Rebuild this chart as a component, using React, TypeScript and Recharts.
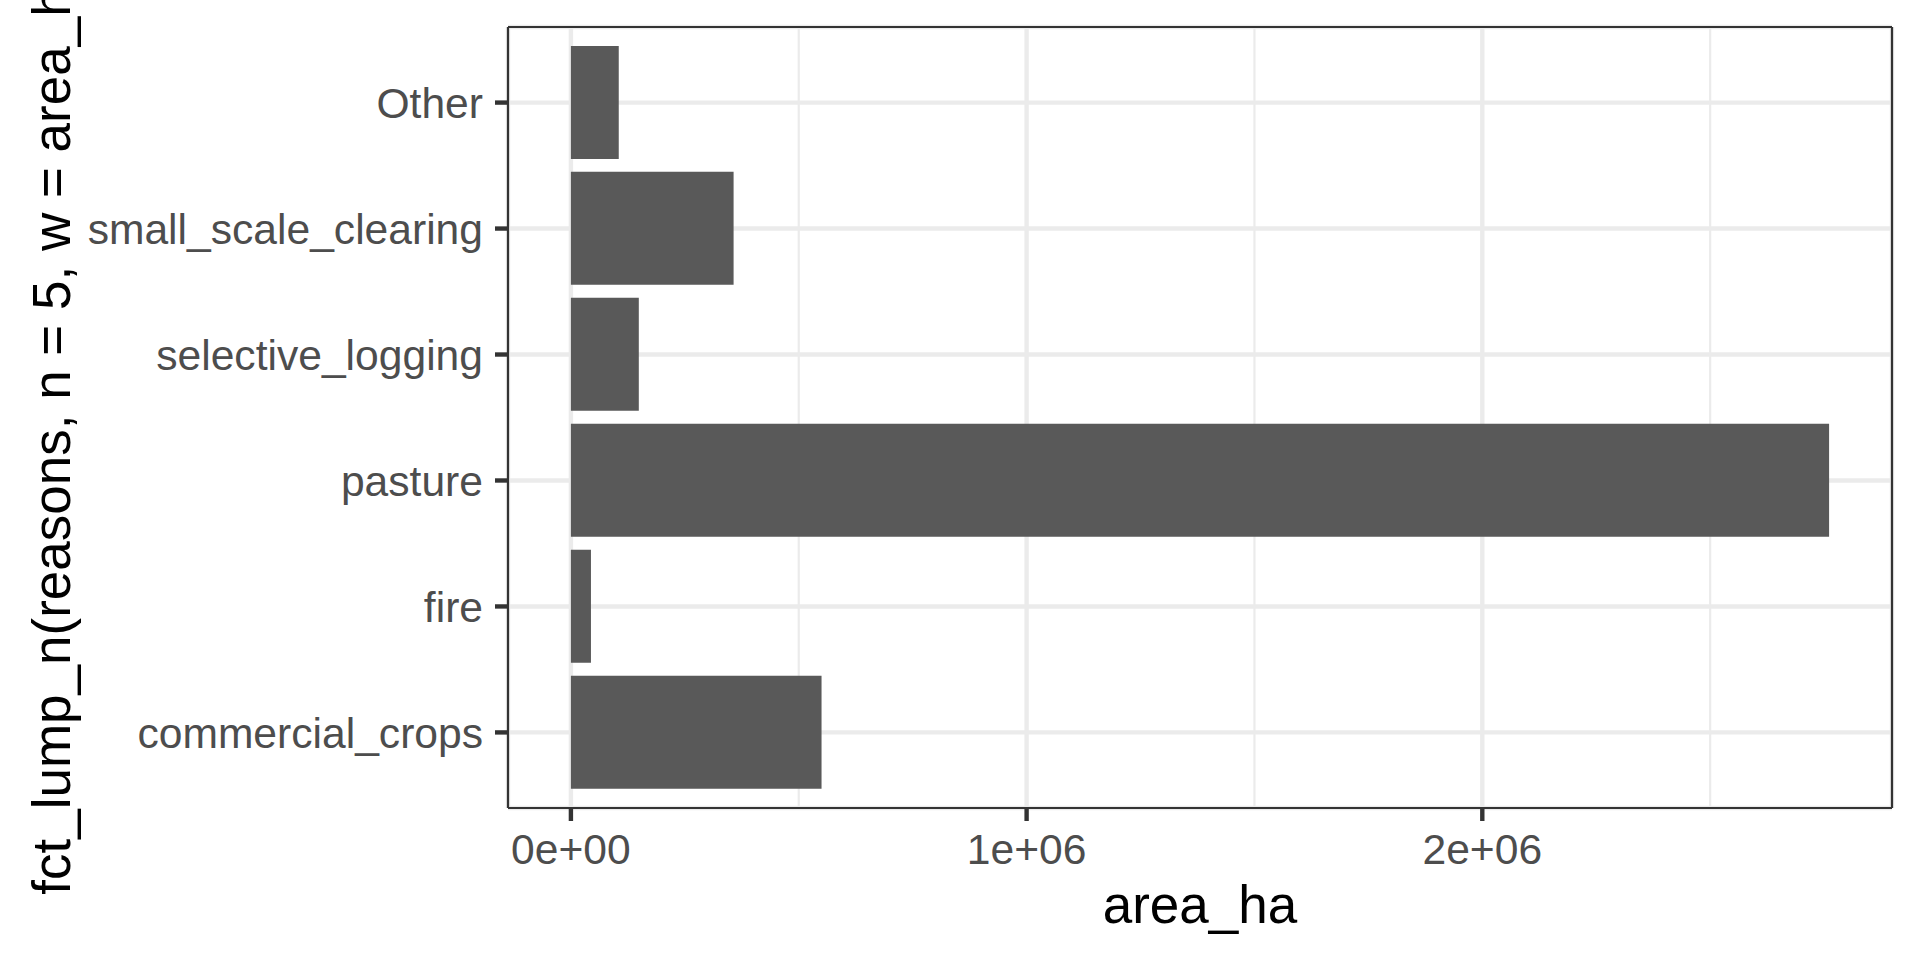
import React from "react";
import { BarChart, Bar, XAxis, YAxis, CartesianGrid, Label } from "recharts";

const categories = ["commercial_crops", "fire", "pasture", "selective_logging", "small_scale_clearing", "Other"];
const areaHa = [550000, 44000, 2761000, 149000, 357000, 105000];
const majorTicks = [0, 1000000, 2000000];
const minorTicks = [500000, 1500000, 2500000];
const xTitle = "area_ha";
const yTitle = "fct_lump_n(reasons, n = 5, w = area_ha)";

const data = categories.map((c, i) => ({ reason: c, area_ha: areaHa[i] }));
const maxVal = Math.max(...areaHa);
const domain: [number, number] = [-0.05 * maxVal, 1.05 * maxVal];

const FONT = "'Liberation Sans', Arial, Helvetica, sans-serif";

function sci(v: number): string {
  if (v === 0) return "0e+00";
  const exp = Math.floor(Math.log10(Math.abs(v)));
  const mant = Math.round(v / Math.pow(10, exp));
  const sign = exp < 0 ? "-" : "+";
  const e = String(Math.abs(exp)).padStart(2, "0");
  return `${mant}e${sign}${e}`;
}

const XTitle = (props: any) => {
  const vb = props.viewBox || { x: 508, width: 1384 };
  return (
    <text x={vb.x + vb.width / 2} y={923} textAnchor="middle" fill="#000000" fontSize={53} fontFamily={FONT}>
      {xTitle}
    </text>
  );
};

const YTitle = (props: any) => {
  const vb = props.viewBox || { y: 27, height: 781 };
  const cy = vb.y + vb.height / 2;
  const x = 70;
  return (
    <text x={x} y={cy} transform={`rotate(-90, ${x}, ${cy})`} textAnchor="middle" fill="#000000" fontSize={53} fontFamily={FONT}>
      {yTitle}
    </text>
  );
};

export default function App() {
  const borderLine = { stroke: "#333333", strokeWidth: 2.2 };
  const tickLine = { stroke: "#333333", strokeWidth: 4.4 };
  const tickStyle = { fill: "#4D4D4D", fontSize: 42.6, fontFamily: FONT };
  return (
    <div style={{ position: "absolute", left: 0, top: 0, width: 1920, height: 960, background: "#ffffff" }}>
      <BarChart
        width={1920}
        height={960}
        layout="vertical"
        data={data}
        margin={{ top: 26, right: 27, bottom: 0, left: 0 }}
        barCategoryGap="5%"
      >
        <CartesianGrid
          stroke="#EBEBEB"
          strokeWidth={4.4}
          horizontal={{ stroke: "#EBEBEB", strokeWidth: 4.4 }}
          vertical={{ stroke: "#EBEBEB", strokeWidth: 4.4 }}
        />
        <CartesianGrid
          xAxisId="minor"
          horizontal={false}
          stroke="#EBEBEB"
          strokeWidth={2.2}
          vertical={{ stroke: "#EBEBEB", strokeWidth: 2.2 }}
        />
        <XAxis
          type="number"
          domain={domain}
          ticks={majorTicks}
          interval={0}
          allowDataOverflow
          tickFormatter={sci}
          height={152}
          tickSize={13}
          tickMargin={13}
          stroke="#333333"
          axisLine={borderLine}
          tickLine={tickLine}
          tick={tickStyle}
        >
          <Label content={XTitle} />
        </XAxis>
        <XAxis xAxisId="minor" type="number" domain={domain} ticks={minorTicks} interval={0} allowDataOverflow hide />
        <XAxis
          xAxisId="top"
          orientation="top"
          type="number"
          domain={domain}
          ticks={majorTicks}
          allowDataOverflow
          height={1}
          tick={false}
          tickLine={false}
          stroke="#333333"
          axisLine={borderLine}
        />
        <YAxis
          type="category"
          dataKey="reason"
          reversed
          width={508}
          padding={{ top: 12.6, bottom: 12.6 }}
          interval={0}
          tickSize={13}
          tickMargin={12}
          stroke="#333333"
          axisLine={borderLine}
          tickLine={tickLine}
          tick={tickStyle}
        >
          <Label content={YTitle} />
        </YAxis>
        <YAxis
          yAxisId="right"
          orientation="right"
          type="category"
          dataKey="reason"
          width={1}
          tick={false}
          tickLine={false}
          stroke="#333333"
          axisLine={borderLine}
        />
        <Bar dataKey="area_ha" fill="#595959" isAnimationActive={false} />
      </BarChart>
    </div>
  );
}
